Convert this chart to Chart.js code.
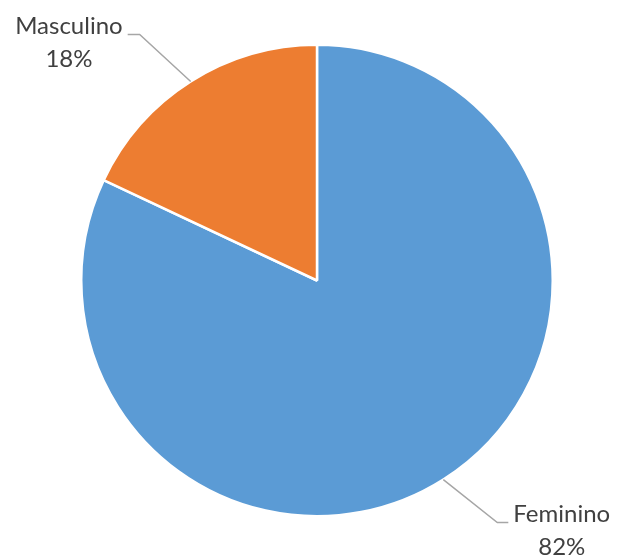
<!DOCTYPE html>
<html>
<head>
<meta charset="utf-8">
<script src="https://cdn.jsdelivr.net/npm/chart.js@4"></script>
<style>
  html, body { margin: 0; padding: 0; background: #fff; }
</style>
</head>
<body>
<canvas id="pieChart" width="619" height="560"></canvas>
<script>
const labels = ['Feminino', 'Masculino'];
const values = [82, 18];
const colors = ['#5B9BD5', '#ED7D31'];

// callout labels: leader line elbow offsets + text anchor, per slice
const callouts = [
  { elbow: [54, 43], tail: 11, side: 'right' },
  { elbow: [-51, -47], tail: -12, side: 'left' }
];

const calloutPlugin = {
  id: 'callouts',
  afterDatasetsDraw(chart) {
    const ctx = chart.ctx;
    const meta = chart.getDatasetMeta(0);
    const total = values.reduce((a, b) => a + b, 0);
    meta.data.forEach((arc, i) => {
      const mid = (arc.startAngle + arc.endAngle) / 2;
      const r = arc.outerRadius;
      const x0 = arc.x + Math.cos(mid) * r;
      const y0 = arc.y + Math.sin(mid) * r;
      const c = callouts[i];
      const x1 = x0 + c.elbow[0];
      const y1 = y0 + c.elbow[1];
      const x2 = x1 + c.tail;
      ctx.save();
      ctx.strokeStyle = '#A6A6A6';
      ctx.lineWidth = 1.5;
      ctx.beginPath();
      ctx.moveTo(x0, y0);
      ctx.lineTo(x1, y1);
      ctx.lineTo(x2, y1);
      ctx.stroke();

      ctx.fillStyle = '#404040';
      ctx.font = '24px Lato, "Open Sans", sans-serif';
      ctx.textBaseline = 'middle';
      ctx.textAlign = 'center';
      const name = labels[i];
      const pct = Math.round(values[i] / total * 100) + '%';
      const w = ctx.measureText(name).width;
      const cx = c.side === 'left' ? x2 - 5 - w / 2 : x2 + 5 + w / 2;
      ctx.fillText(name, cx, y1 - 8);
      ctx.fillText(pct, cx, y1 + 25);
      ctx.restore();
    });
  }
};

const pieCtx = document.getElementById('pieChart').getContext('2d');
const pieChart = new Chart(pieCtx, {
  type: 'pie',
  data: {
    labels: labels,
    datasets: [{
      data: values,
      backgroundColor: colors,
      borderColor: '#ffffff',
      borderWidth: 2.5
    }]
  },
  options: {
    responsive: false,
    animation: false,
    layout: { padding: { left: 80, right: 65, top: 43, bottom: 42 } },
    plugins: { legend: { display: false }, tooltip: { enabled: false } }
  },
  plugins: [calloutPlugin]
});
</script>
</body>
</html>
